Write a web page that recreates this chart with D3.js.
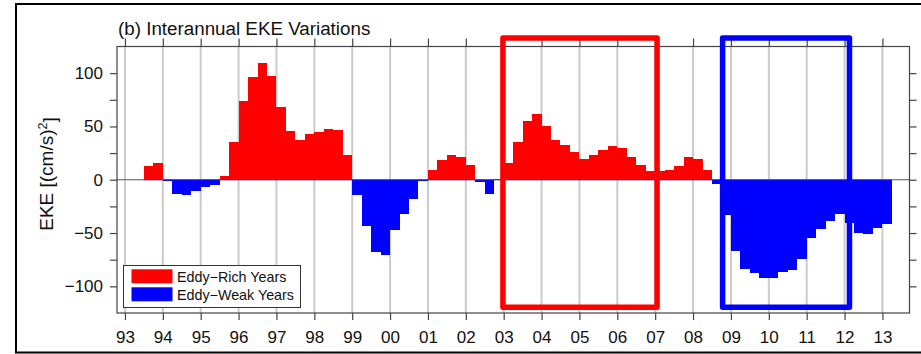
<!DOCTYPE html>
<html>
<head>
<meta charset="utf-8">
<script src="https://cdn.jsdelivr.net/npm/d3@7"></script>
<style>
  body { margin: 0; background: #fff; }
  svg { display: block; }
  text { font-family: "Liberation Sans", Arial, Helvetica, sans-serif; fill: #111; }
</style>
</head>
<body>
<svg id="chart" width="921" height="354"></svg>
<script>
// Quarterly (3-month) EKE anomalies, (cm/s)^2, first bin starts mid-1993
const firstQuarter = 1993.5;
const eke = [
  13.0, 15.3, -1.0, -13.0, -14.7, -11.0, -7.0, -4.7, 3.7, 35.0,      // 1993.50 - 1995.75
  74.0, 96.0, 109.4, 97.0, 68.0, 46.0, 37.5, 43.0, 44.7, 47.5,       // 1996.00 - 1998.25
  46.6, 23.4, -14.0, -43.4, -68.0, -70.3, -47.5, -32.5, -18.4, -1.0, // 1998.50 - 2000.75
  8.7, 18.7, 23.0, 21.6, 13.5, -2.5, -13.7, 0.5, 16.0, 35.4,         // 2001.00 - 2003.25
  54.8, 61.3, 50.8, 37.4, 32.6, 26.0, 19.1, 22.8, 27.6, 32.1,        // 2003.50 - 2005.75
  29.6, 21.6, 13.8, 8.5, 8.3, 8.9, 12.7, 21.4, 19.1, 9.5,            // 2006.00 - 2008.25
  -3.7, -33.0, -66.5, -83.4, -87.6, -92.4, -92.2, -86.6, -84.6, -74.0, // 2008.50 - 2010.75
  -54.7, -46.3, -38.7, -31.8, -40.8, -50.0, -51.1, -44.9, -41.1      // 2011.00 - 2013.00
];
const yearTicks = d3.range(1993, 2014);
const yearLabels = ["93","94","95","96","97","98","99","00","01","02","03",
                    "04","05","06","07","08","09","10","11","12","13"];
const yMajor = [-100, -50, 0, 50, 100];
const yMinor = [-75, -25, 25, 75];
const legendLabels = ["Eddy\u2212Rich Years", "Eddy\u2212Weak Years"];
const legendColors = ["#ff0000", "#0000ff"];
// highlighted periods: [start year, end year, colour]
const richPeriod = [2002.98, 2007.05, "#ff0000"];
const weakPeriod = [2008.78, 2012.13, "#0000ff"];
const boxTop = 133, boxBottom = -119.5;   // in EKE units

const svg = d3.select("#chart");
const plot = { left: 117, right: 909.5, top: 46.5, bottom: 313 };

const x = d3.scaleLinear().domain([1992.79, 2013.715]).range([plot.left, plot.right]);
const y = d3.scaleLinear().domain([-125, 125]).range([plot.bottom, plot.top]);
const qStart = i => firstQuarter + i * 0.25;

// outer frame
svg.append("rect").attr("x", 16).attr("y", 4).attr("width", 920).attr("height", 348.5)
  .attr("fill", "none").attr("stroke", "#000").attr("stroke-width", 2);

// vertical year grid
svg.append("g").selectAll("line").data(yearTicks).join("line")
  .attr("x1", d => x(d)).attr("x2", d => x(d))
  .attr("y1", plot.top).attr("y2", plot.bottom)
  .attr("stroke", "#cbcbcb").attr("stroke-width", 2);

// reference line at zero
svg.append("line").attr("x1", plot.left).attr("x2", plot.right)
  .attr("y1", y(0)).attr("y2", y(0)).attr("stroke", "#555").attr("stroke-width", 1);

// bars
svg.append("g").attr("shape-rendering", "crispEdges")
  .selectAll("rect").data(eke).join("rect")
  .attr("x", (d, i) => x(qStart(i)))
  .attr("width", (d, i) => x(qStart(i) + 0.25) - x(qStart(i)))
  .attr("y", d => y(Math.max(0, d)))
  .attr("height", d => Math.abs(y(d) - y(0)))
  .attr("fill", d => d >= 0 ? legendColors[0] : legendColors[1]);

// blue baseline over the data span
svg.append("line").attr("x1", x(firstQuarter)).attr("x2", x(qStart(eke.length)))
  .attr("y1", y(0)).attr("y2", y(0)).attr("stroke", "#3a2fd0").attr("stroke-width", 1).attr("opacity", 0.8);

// axes
function styleAxis(g) {
  g.select(".domain").remove();
  g.selectAll(".tick line").attr("stroke", "#444").attr("stroke-width", 1.2);
  g.selectAll(".tick text").style("font-size", "17px").attr("fill", "#111");
}
svg.append("g").attr("transform", `translate(0,${plot.bottom})`)
  .call(d3.axisBottom(x).tickValues(yearTicks).tickFormat((d, i) => yearLabels[i]).tickSize(7).tickPadding(11))
  .call(styleAxis);
svg.append("g").attr("transform", `translate(0,${plot.top})`)
  .call(d3.axisTop(x).tickValues(yearTicks).tickFormat("").tickSize(8))
  .call(styleAxis);
svg.append("g").attr("transform", `translate(${plot.left},0)`)
  .call(d3.axisLeft(y).tickValues(yMajor).tickSize(7).tickPadding(7))
  .call(styleAxis);
svg.append("g").attr("transform", `translate(${plot.left},0)`)
  .call(d3.axisLeft(y).tickValues(yMinor).tickFormat("").tickSize(7))
  .call(styleAxis);
svg.append("g").attr("transform", `translate(${plot.right},0)`)
  .call(d3.axisRight(y).tickValues(yMajor.concat(yMinor)).tickFormat("").tickSize(7))
  .call(styleAxis);

// plot border
svg.append("rect").attr("x", plot.left).attr("y", plot.top)
  .attr("width", plot.right - plot.left).attr("height", plot.bottom - plot.top)
  .attr("fill", "none").attr("stroke", "#444").attr("stroke-width", 1.2);

// legend
const lg = svg.append("g");
lg.append("rect").attr("x", 123.5).attr("y", 265.5).attr("width", 177).attr("height", 42)
  .attr("fill", "#fff").attr("stroke", "#333").attr("stroke-width", 1);
legendLabels.forEach((lab, i) => {
  lg.append("rect").attr("x", 131.5).attr("y", 269.3 + i * 18).attr("width", 41).attr("height", 14)
    .attr("fill", legendColors[i]);
  lg.append("text").attr("x", 177).attr("y", 282 + i * 17.5)
    .style("font-size", "14.3px").text(lab);
});

// highlighted periods
[richPeriod, weakPeriod].forEach(([a, b, c]) => {
  svg.append("rect").attr("x", x(a)).attr("y", y(boxTop))
    .attr("width", x(b) - x(a)).attr("height", y(boxBottom) - y(boxTop))
    .attr("fill", "none").attr("stroke", c).attr("stroke-width", 5.5)
    .attr("stroke-linejoin", "round");
});

// title
svg.append("text").attr("x", 118).attr("y", 35).style("font-size", "18.8px")
  .text("(b) Interannual EKE Variations");

// y-axis label
const yl = svg.append("text")
  .attr("transform", "translate(53,174) rotate(-90)")
  .attr("text-anchor", "middle").style("font-size", "19px");
yl.append("tspan").text("EKE [(cm/s)");
yl.append("tspan").attr("dy", "-0.45em").style("font-size", "12.5px").text("2");
yl.append("tspan").attr("dy", "0.45em").text("]");
</script>
</body>
</html>
